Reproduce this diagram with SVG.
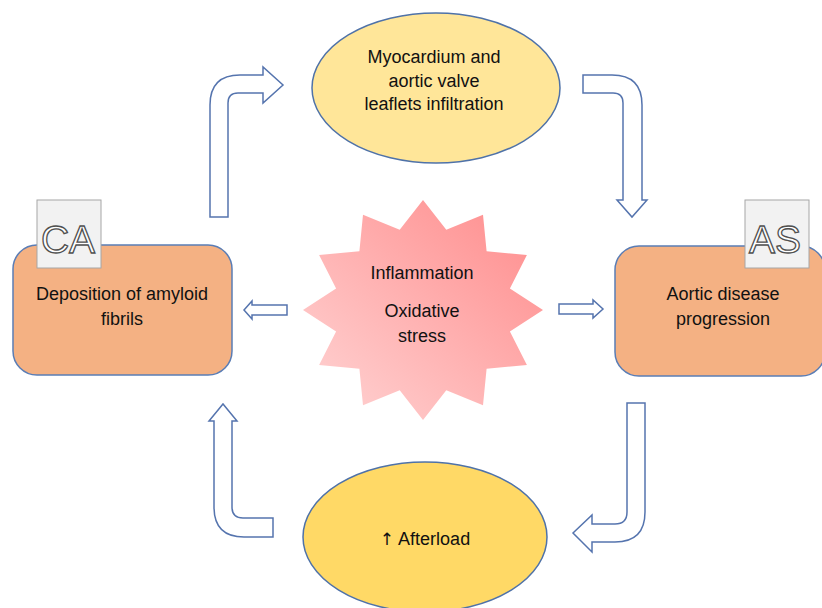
<svg xmlns="http://www.w3.org/2000/svg" width="822" height="608" viewBox="0 0 822 608">
<defs>
<linearGradient id="starGrad" x1="0" y1="1" x2="1" y2="0">
<stop offset="0" stop-color="#FFD6D6"/>
<stop offset="1" stop-color="#FF8A8A"/>
</linearGradient>
<style>
.lbl{font-family:"Liberation Sans",Arial,sans-serif;font-size:18px;fill:#111111;text-anchor:middle}
.sym{font-family:"DejaVu Sans",sans-serif;font-size:17px;fill:#111111}
.tag{fill:#F2F2F2;stroke:#A6A6A6;stroke-width:1}
.tagtxt{font-family:"Liberation Sans",Arial,sans-serif;font-size:39px;fill:#FFFFFF;stroke:#505050;stroke-width:1.3;text-anchor:middle}
.box{fill:#F4B183;stroke:#5A7DB5;stroke-width:1.5}
.arrow{fill:#FFFFFF;stroke:#5574AE;stroke-width:1.5;stroke-linejoin:miter}
</style>
</defs>
<rect width="822" height="608" fill="#FFFFFF"/>

<g id="connectors">
<path class="arrow" d="M210,217 L210,105 Q210,75 240,75 L263,75 L263,67 L283,85 L263,103 L263,93 L238,93 Q228,93 228,103 L228,217 Z"/>
<path class="arrow" d="M583,75 L612,75 Q642,75 642,105 L642,200 L647,200 L632,217 L617,200 L623,200 L623,103 Q623,93 613,93 L583,93 Z"/>
<path class="arrow" d="M627,403 L645,403 L645,512 Q645,542 615,542 L592,542 L592,552 L573,533 L592,515 L592,524 L615,524 Q627,524 627,512 Z"/>
<path class="arrow" d="M273,518 L243,518 Q232,518 232,507 L232,421 L237,421 L223,404 L209,421 L214,421 L214,507 Q214,537 244,537 L273,537 Z"/>
<path class="arrow" d="M287,305 L252,305 L252,301 L244,310 L252,319 L252,315 L287,315 Z"/>
<path class="arrow" d="M559,304 L593,304 L593,300 L603,309 L593,318 L593,314 L559,314 Z"/>
</g>

<g id="myocardium">
<ellipse cx="436" cy="88" rx="124" ry="75" fill="#FFE699" stroke="#4F72A8" stroke-width="1.5"/>
<text class="lbl" x="434" y="63">Myocardium and</text>
<text class="lbl" x="434" y="87">aortic valve</text>
<text class="lbl" x="434" y="110">leaflets infiltration</text>
</g>

<g id="deposition">
<rect class="box" x="13" y="245" width="219" height="130" rx="24" ry="24"/>
<text class="lbl" x="122" y="300">Deposition of amyloid</text>
<text class="lbl" x="122" y="325">fibrils</text>
<rect class="tag" x="37" y="200" width="64" height="68"/>
<text class="tagtxt" x="68" y="253">CA</text>
</g>

<g id="aortic">
<rect class="box" x="615" y="246" width="210" height="130" rx="24" ry="24"/>
<text class="lbl" x="723" y="300">Aortic disease</text>
<text class="lbl" x="723" y="325">progression</text>
<rect class="tag" x="745" y="200" width="64" height="68"/>
<text class="tagtxt" x="775" y="253">AS</text>
</g>

<g id="stress">
<polygon fill="url(#starGrad)" points="423,200 446.3,229.8 483,214.7 486.6,251.3 526.9,255 509.9,288.5 543,310 509.9,331.5 526.9,365 486.6,368.7 483,405.3 446.3,390.2 423,420 399.7,390.2 363,405.3 359.4,368.7 319.1,365 336.1,331.5 303,310 336.1,288.5 319.1,255 359.4,251.3 363,214.7 399.7,229.8"/>
<text class="lbl" x="422" y="279">Inflammation</text>
<text class="lbl" x="422" y="317">Oxidative</text>
<text class="lbl" x="422" y="342">stress</text>
</g>

<g id="afterload">
<ellipse cx="425" cy="537" rx="122" ry="75" fill="#FFD966" stroke="#4F72A8" stroke-width="1.5"/>
<text class="lbl" x="425" y="545"><tspan class="sym">↑</tspan> Afterload</text>
</g>
</svg>
